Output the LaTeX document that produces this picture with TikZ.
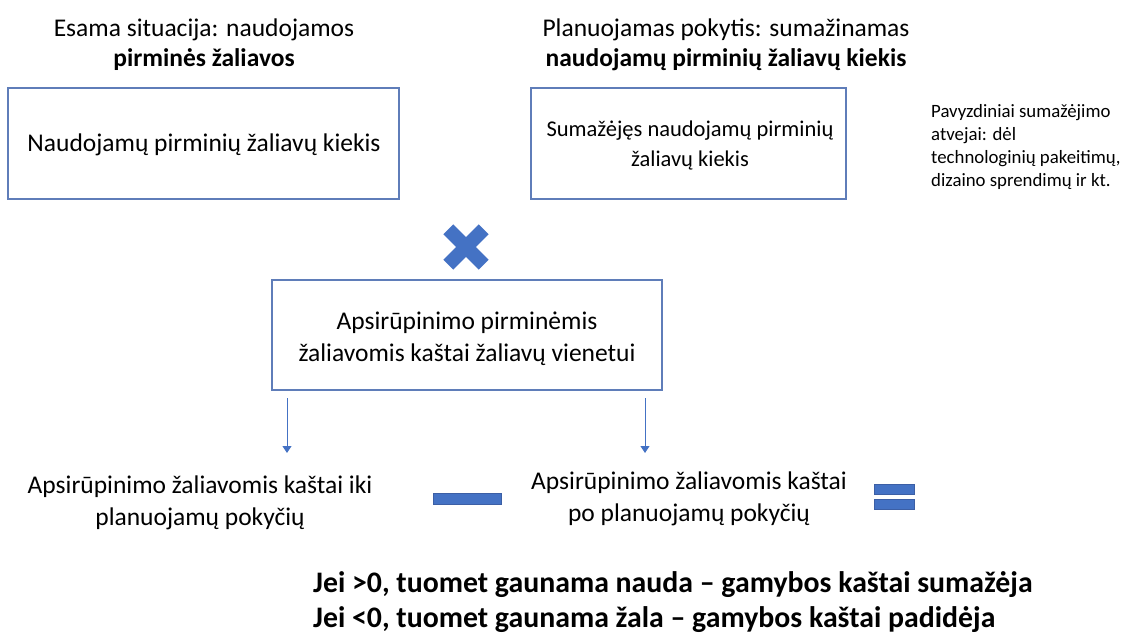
\documentclass[tikz,border=0pt]{standalone}
\usepackage{fontspec}
\setmainfont{Carlito}
\usetikzlibrary{arrows.meta}
\definecolor{boxline}{RGB}{95,125,185}
\definecolor{accent}{RGB}{68,114,196}
\definecolor{accentdark}{RGB}{60,95,165}
\tikzset{
  frame/.style={draw=boxline, line width=1.3pt, fill=white},
  heading/.style={align=center, font=\fontsize{25.5}{30}\selectfont, inner sep=0pt},
  boxtext/.style={align=center, font=\fontsize{25.5}{32}\selectfont, inner sep=0pt},
  smallbox/.style={align=center, font=\fontsize{22.5}{30}\selectfont, inner sep=0pt},
  notetext/.style={align=left, font=\fontsize{18.8}{23}\selectfont, inner sep=0pt, anchor=west},
  resulttext/.style={align=left, font=\bfseries\fontsize{29.8}{35}\selectfont, inner sep=0pt, anchor=west},
  arr/.style={draw=accent, line width=0.9pt, -{Triangle[width=9pt,length=7pt]}},
  opshape/.style={fill=accent, draw=accentdark, line width=0.6pt}
}
\begin{document}
\begin{tikzpicture}[x=1pt,y=-1pt]
\useasboundingbox (0,0) rectangle (1135,633);
% headings
\node[heading] (h1) at (204,45) {Esama situacija: naudojamos\\\textbf{pirminės žaliavos}};
\node[heading] (h2) at (726,45) {Planuojamas pokytis: sumažinamas\\\textbf{naudojamų pirminių žaliavų kiekis}};
% box 1
\draw[frame] (8,88) rectangle (399,199);
\node[boxtext] (b1) at (204,145) {Naudojamų pirminių žaliavų kiekis};
% box 2
\draw[frame] (531,88) rectangle (846,199);
\node[smallbox] (b2) at (690,145) {Sumažėjęs naudojamų pirminių\\žaliavų kiekis};
% note
\node[notetext] (note) at (931,147) {Pavyzdiniai sumažėjimo\\atvejai: dėl\\technologinių pakeitimų,\\dizaino sprendimų ir kt.};
% multiply sign
\coordinate (xm) at (466,247);
\fill[accent, rotate around={45:(xm)}] ([xshift=-25pt,yshift=-7pt]xm) rectangle ([xshift=25pt,yshift=7pt]xm);
\fill[accent, rotate around={-45:(xm)}] ([xshift=-25pt,yshift=-7pt]xm) rectangle ([xshift=25pt,yshift=7pt]xm);
% box 3
\draw[frame] (272,280) rectangle (662,390);
\node[boxtext] (b3) at (467,339) {Apsirūpinimo pirminėmis\\žaliavomis kaštai žaliavų vienetui};
% arrows
\coordinate (a1s) at (287,398);
\coordinate (a1e) at (287,453);
\coordinate (a2s) at (645,398);
\coordinate (a2e) at (645,453);
\draw[arr] (a1s) -- (a1e);
\draw[arr] (a2s) -- (a2e);
% lower texts
\node[boxtext] (t1) at (200,503) {Apsirūpinimo žaliavomis kaštai iki\\planuojamų pokyčių};
\node[boxtext] (t2) at (689,499) {Apsirūpinimo žaliavomis kaštai\\po planuojamų pokyčių};
% minus and equals
\draw[opshape] (433,493) rectangle (501,504);
\draw[opshape] (874,484) rectangle (914,494);
\draw[opshape] (874,499) rectangle (914,509);
% result
\node[resulttext] (res) at (313,602) {Jei >0, tuomet gaunama nauda – gamybos kaštai sumažėja\\Jei <0, tuomet gaunama žala – gamybos kaštai padidėja};
\end{tikzpicture}
\end{document}
